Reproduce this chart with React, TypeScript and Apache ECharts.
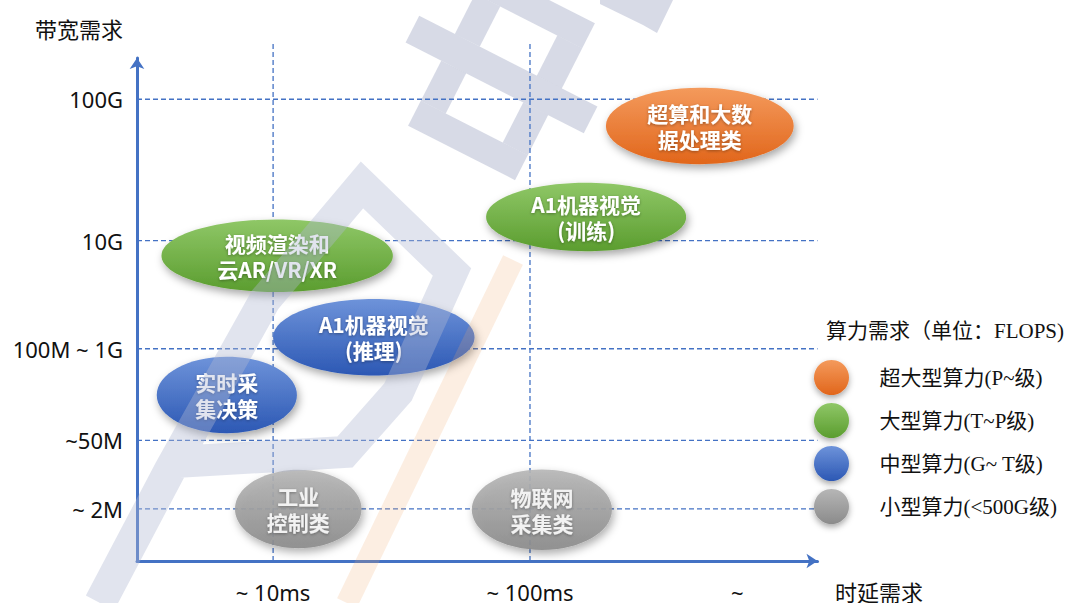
import React, { useEffect, useRef } from 'react';
import * as echarts from 'echarts';

// ---- axis ticks (schematic positions on a 0..100 scale) ----
const yTickValues = [10.35, 24.0, 42.2, 63.7, 91.8];
const yTickLabels = ['~ 2M', '~50M', '100M ~ 1G', '10G', '100G'];
const xTickValues = [20.0, 57.75, 88.2];
const xTickLabels = ['~ 10ms', '~ 100ms', '~'];
const xGridValues = [20.0, 57.75];
const yGridTop = 103.1;

// ---- compute levels (legend) ----
const levelNames = ['超大型算力(P~级)', '大型算力(T~P级)', '中型算力(G~ T级)', '小型算力(<500G级)'];
const levelColors = [
  ['#F49A5C', '#E1661B'],
  ['#8FC767', '#5B9D2F'],
  ['#6E93DA', '#2C58B4'],
  ['#B6B6B6', '#8B8B8B'],
];

// ---- applications ----
const appNames = [
  '超算和大数\n据处理类',
  'A1机器视觉\n(训练)',
  '视频渲染和\n云AR/VR/XR',
  'A1机器视觉\n(推理)',
  '实时采\n集决策',
  '工业\n控制类',
  '物联网\n采集类',
];
const appLatency = [82.7, 66.0, 20.6, 34.8, 13.2, 23.7, 59.5];
const appBandwidth = [86.5, 68.4, 60.7, 44.5, 33.0, 10.35, 10.2];
const appLatencySpread = [13.8, 14.7, 17.0, 14.8, 10.3, 9.3, 10.3];
const appBandwidthSpread = [7.6, 6.8, 7.2, 7.6, 7.6, 7.8, 8.0];
const appLevel = [0, 1, 1, 2, 2, 3, 3];

const lookup = (vals: number[], labels: string[], v: number) => {
  for (let i = 0; i < vals.length; i++) if (Math.abs(vals[i] - v) < 1e-6) return labels[i];
  return '';
};

const grad = (c: string[]) =>
  new echarts.graphic.LinearGradient(0, 0, 0, 1, [
    { offset: 0, color: c[0] },
    { offset: 1, color: c[1] },
  ]);

export default function App() {
  const ref = useRef<HTMLDivElement>(null);

  useEffect(() => {
    if (!ref.current) return;
    const chart = echarts.init(ref.current, undefined, { renderer: 'svg' });

    const gridData = [
      ...yTickValues.map((v) => [0, v]),
      ...xGridValues.map((v) => [1, v]),
    ];

    const levelSeries = levelNames.map((name, l) => {
      const items = appNames
        .map((n, i) => ({ n, i }))
        .filter((d) => appLevel[d.i] === l)
        .map((d) => ({
          name: d.n,
          value: [appLatency[d.i], appBandwidth[d.i], appLatencySpread[d.i], appBandwidthSpread[d.i]],
        }));
      return {
        type: 'custom',
        name,
        z: 3,
        itemStyle: { color: grad(levelColors[l]) },
        data: items,
        renderItem: (params: any, api: any) => {
          const c = api.coord([api.value(0), api.value(1)]);
          const s = api.size([api.value(2), api.value(3)]);
          const label = items[params.dataIndex].name;
          return {
            type: 'group',
            children: [
              {
                type: 'ellipse',
                shape: { cx: c[0], cy: c[1], rx: s[0], ry: s[1] },
                style: {
                  fill: grad(levelColors[l]),
                  opacity: l === 3 ? 0.9 : 1,
                  shadowBlur: 8,
                  shadowOffsetX: 2,
                  shadowOffsetY: 4,
                  shadowColor: 'rgba(0,0,0,0.35)',
                },
              },
              {
                type: 'text',
                x: c[0],
                y: c[1],
                style: {
                  text: label,
                  align: 'center',
                  verticalAlign: 'middle',
                  fill: l === 3 ? '#f2f2f2' : '#ffffff',
                  fontSize: 21,
                  fontWeight: 'bold',
                  fontFamily: 'Noto Sans CJK SC',
                  lineHeight: 26,
                  textShadowColor: 'rgba(0,0,0,0.35)',
                  textShadowBlur: 3,
                  textShadowOffsetY: 1,
                },
              },
            ],
          };
        },
      };
    });

    const wmGray = 'rgba(175,182,205,0.5)';
    const wmBand = 'rgba(175,185,210,0.38)';
    const wmOrange = 'rgba(240,170,110,0.2)';

    const option: any = {
      animation: false,
      backgroundColor: '#ffffff',
      grid: { left: 137, top: 58, right: 255.5, bottom: 33, containLabel: false },
      title: {
        text: '算力需求（单位：FLOPS)',
        left: 826,
        top: 320,
        padding: 0,
        textStyle: {
          fontSize: 21,
          fontWeight: 'normal',
          color: '#111',
          fontFamily: "'Liberation Serif', 'Noto Sans CJK SC'",
        },
      },
      legend: {
        orient: 'vertical',
        left: 814,
        top: 360,
        padding: 0,
        itemWidth: 58,
        itemHeight: 35,
        itemGap: 8,
        selectedMode: false,
        icon: 'circle',
        textStyle: {
          fontSize: 21,
          color: '#111',
          padding: [0, 0, 0, 14],
          fontFamily: "'Liberation Serif', 'Noto Sans CJK SC'",
        },
        data: levelNames.map((name, l) => ({
          name,
          icon: 'circle',
          itemStyle: {
            color: grad(levelColors[l]),
            shadowBlur: 6,
            shadowOffsetY: 3,
            shadowColor: 'rgba(0,0,0,0.35)',
          },
        })),
      },
      xAxis: {
        type: 'value',
        min: 0,
        max: 100,
        axisLine: {
          show: true,
          symbol: ['none', 'arrow'],
          symbolSize: [11, 11],
          lineStyle: { color: '#4472C4', width: 3 },
        },
        axisTick: { show: false },
        splitLine: { show: false },
        axisLabel: {
          customValues: xTickValues,
          formatter: (v: number) => lookup(xTickValues, xTickLabels, v),
          margin: 20,
          fontSize: 22,
          color: '#111',
          fontFamily: 'Noto Sans',
        },
      },
      yAxis: {
        type: 'value',
        min: 0,
        max: 100,
        axisLine: {
          show: true,
          symbol: ['none', 'arrow'],
          symbolSize: [11, 11],
          lineStyle: { color: '#4472C4', width: 3 },
        },
        axisTick: { show: false },
        splitLine: { show: false },
        axisLabel: {
          customValues: yTickValues,
          formatter: (v: number) => lookup(yTickValues, yTickLabels, v),
          margin: 14,
          fontSize: 22,
          color: '#111',
          fontFamily: 'Noto Sans',
        },
      },
      graphic: [
        {
          type: 'text',
          left: 35,
          top: 17,
          style: { text: '带宽需求', fontSize: 22, fill: '#111', fontFamily: 'Noto Sans CJK SC' },
        },
        {
          type: 'text',
          left: 835,
          top: 580,
          style: { text: '时延需求', fontSize: 22, fill: '#111', fontFamily: 'Noto Sans CJK SC' },
        },
        // watermark "中" logo
        {
          type: 'group',
          x: 501.5,
          y: 74.5,
          rotation: -0.471,
          z: 50,
          silent: true,
          children: [
            { type: 'rect', shape: { x: -60, y: -88, width: 120, height: 28 }, style: { fill: wmGray } },
            { type: 'rect', shape: { x: -60, y: 60, width: 120, height: 28 }, style: { fill: wmGray } },
            { type: 'rect', shape: { x: -60, y: -60, width: 28, height: 45 }, style: { fill: wmGray } },
            { type: 'rect', shape: { x: -60, y: 15, width: 28, height: 45 }, style: { fill: wmGray } },
            { type: 'rect', shape: { x: 32, y: -60, width: 28, height: 45 }, style: { fill: wmGray } },
            { type: 'rect', shape: { x: 32, y: 15, width: 28, height: 45 }, style: { fill: wmGray } },
            { type: 'rect', shape: { x: -100, y: -15, width: 200, height: 30 }, style: { fill: wmGray } },
          ],
        },
        {
          type: 'polygon',
          z: 50,
          silent: true,
          shape: { points: [[600, 0], [673, 0], [657, 33], [643, 25], [600, 4]] },
          style: { fill: wmGray },
        },
        {
          type: 'polyline',
          z: 50,
          silent: true,
          shape: {
            points: [[100, 603], [170, 470], [265, 300], [362, 185], [452, 272], [398, 392], [345, 452], [175, 462]],
          },
          style: { stroke: wmBand, lineWidth: 32, lineJoin: 'miter', fill: 'none' },
        },
        {
          type: 'polyline',
          z: 50,
          silent: true,
          shape: { points: [[513, 260], [347, 603]] },
          style: { stroke: wmOrange, lineWidth: 22, fill: 'none' },
        },
      ],
      series: [
        {
          type: 'custom',
          name: 'grid',
          silent: true,
          z: 1,
          data: gridData,
          renderItem: (params: any, api: any) => {
            const kind = api.value(0);
            const v = api.value(1);
            const p1 = kind === 0 ? api.coord([0, v]) : api.coord([v, 0]);
            const p2 = kind === 0 ? api.coord([100, v]) : api.coord([v, yGridTop]);
            return {
              type: 'line',
              shape: { x1: p1[0], y1: p1[1], x2: p2[0], y2: p2[1] },
              style: { stroke: '#4472C4', lineWidth: 1.3, lineDash: [5, 3] },
            };
          },
        },
        ...levelSeries,
      ],
    };

    chart.setOption(option);
    return () => chart.dispose();
  }, []);

  return (
    <div
      ref={ref}
      style={{ position: 'fixed', left: 0, top: 0, width: 1073, height: 603, background: '#fff' }}
    />
  );
}
